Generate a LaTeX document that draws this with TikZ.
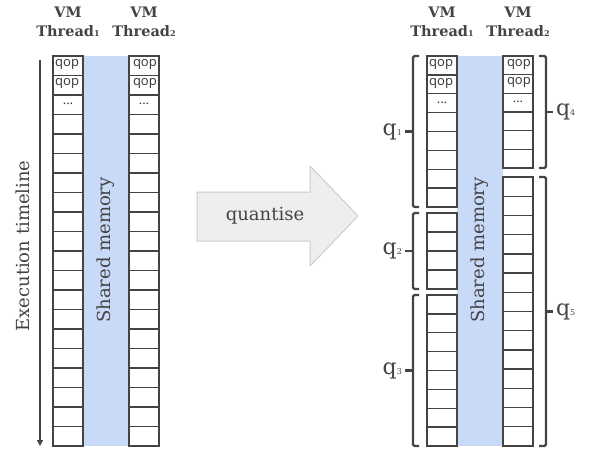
\documentclass[tikz,border=0pt]{standalone}
\usepackage{fontspec}
\setmainfont{DejaVu Serif}
\newfontfamily\qopfont{Open Sans}
\usetikzlibrary{arrows.meta}

\definecolor{ink}{HTML}{444444}
\definecolor{shmem}{HTML}{C9DAF8}
\definecolor{qfill}{HTML}{EEEEEE}
\definecolor{qedge}{HTML}{CCCCCC}

\tikzset{
  opcell/.style={draw=ink, line width=1.3pt, fill=white},
  brk/.style={draw=ink, line width=2.2pt, rounded corners=1.5pt},
  hdr/.style={text=ink, align=center, font=\bfseries\fontsize{14.5}{19}\selectfont},
  qop/.style={text=black!80, inner sep=0pt, font=\qopfont\fontsize{13}{13}\selectfont},
  vlabel/.style={text=ink, rotate=90, font=\fontsize{18}{20}\selectfont},
  qlab/.style={text=ink, inner sep=2pt, font=\fontsize{22}{24}\selectfont},
}

% x, top, bottom, rows
\newcommand{\cellcol}[4]{%
  \pgfmathsetmacro{\rowh}{(#3-#2)/#4}
  \foreach \i in {1,...,#4}
    \draw[opcell] (#1,{#2+(\i-1)*\rowh}) rectangle +(30,\rowh);
}
\newcommand{\sub}[1]{{\fontsize{8}{8}\selectfont #1}}
% top, bottom, name, label
\newcommand{\lbrk}[4]{%
  \draw[brk] (419,#1) -- (413,#1) -- (413,#2) -- (419,#2);
  \draw[brk] (413,{(#1+#2)/2}) -- (405,{(#1+#2)/2}) node[qlab, anchor=east] (#3) {#4};
}
\newcommand{\rbrk}[4]{%
  \draw[brk] (539,#1) -- (546,#1) -- (546,#2) -- (539,#2);
  \draw[brk] (546,{(#1+#2)/2}) -- (553,{(#1+#2)/2}) node[qlab, anchor=west] (#3) {#4};
}

\begin{document}
\begin{tikzpicture}[x=1pt, y=-1pt]
\useasboundingbox (0,0) rectangle (590,450);

% before
\node[hdr] (lvma) at (68,22) {VM\\Thread\sub{1}};
\node[hdr] (lvmb) at (144,22) {VM\\Thread\sub{2}};
\fill[shmem] (83,56) rectangle (129,446);
\cellcol{53}{56}{446}{20}
\cellcol{129}{56}{446}{20}
\node[qop, anchor=west] (lqopa) at (55,64.5) {qop};
\node[qop, anchor=west] (lqopb) at (55,84) {qop};
\node[qop] (ldots) at (68,103.5) {...};
\node[qop, anchor=east] (lqopc) at (157,64.5) {qop};
\node[qop, anchor=east] (lqopd) at (157,84) {qop};
\node[qop] (ldotsb) at (144,103.5) {...};
\node[vlabel] (lshm) at (106,250) {Shared memory};

\coordinate (tlstart) at (40,60);
\coordinate (tlend) at (40,446);
\draw[ink, line width=1.3pt, -{Triangle[width=6pt,length=6pt]}] (tlstart) -- (tlend);
\node[vlabel] (tllab) at (23,246) {Execution timeline};

% quantise
\draw[fill=qfill, draw=qedge, line width=1pt] (197,192) -- (310,192) -- (310,166) -- (358,216)
  -- (310,266) -- (310,241) -- (197,241) -- cycle;
\node[text=ink, font=\fontsize{18}{20}\selectfont] (quantise) at (265,216) {quantise};

% after
\node[hdr] (rvma) at (442,22) {VM\\Thread\sub{1}};
\node[hdr] (rvmb) at (518,22) {VM\\Thread\sub{2}};
\fill[shmem] (457,56) rectangle (503,446);
\cellcol{427}{56}{207}{8}
\cellcol{427}{213}{289}{4}
\cellcol{427}{295}{446}{8}
\cellcol{503}{56}{168}{6}
\cellcol{503}{177}{446}{14}
\node[qop, anchor=west] (rqopa) at (429,64.3) {qop};
\node[qop, anchor=west] (rqopb) at (429,83.2) {qop};
\node[qop] (rdots) at (442,102.5) {...};
\node[qop, anchor=east] (rqopc) at (531,64.2) {qop};
\node[qop, anchor=east] (rqopd) at (531,83) {qop};
\node[qop] (rdotsb) at (518,102) {...};
\node[vlabel] (rshm) at (480,250) {Shared memory};

\lbrk{56}{207}{qa}{q\sub{1}}
\lbrk{213}{289}{qb}{q\sub{2}}
\lbrk{295}{446}{qc}{q\sub{3}}
\rbrk{56}{168}{qd}{q\sub{4}}
\rbrk{177}{446}{qe}{q\sub{5}}
\end{tikzpicture}
\end{document}
